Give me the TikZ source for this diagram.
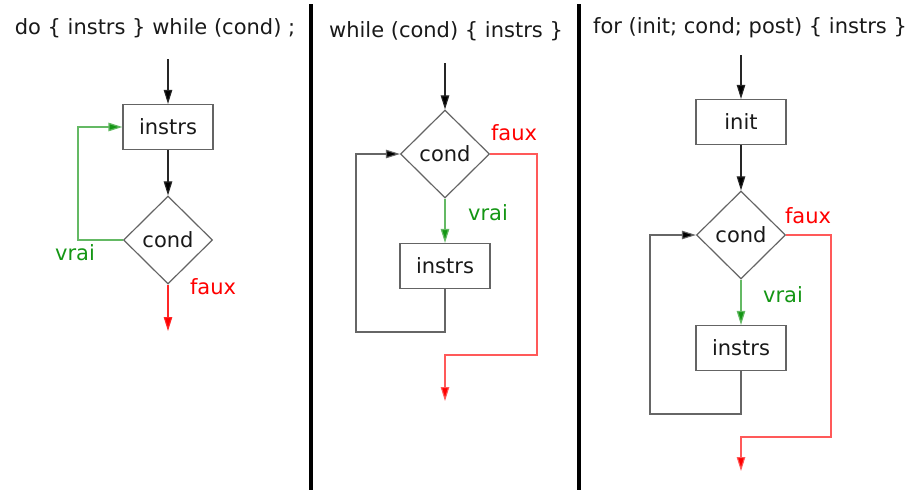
\documentclass[tikz,border=0pt]{standalone}
\usepackage{fontspec}
\setmainfont{DejaVu Sans}
\usetikzlibrary{shapes.geometric,arrows.meta}
\definecolor{okgreen}{RGB}{20,150,20}
\definecolor{lightgreen}{RGB}{100,185,100}
\definecolor{boxgray}{RGB}{100,100,100}
\definecolor{txt}{RGB}{25,25,25}
\tikzset{
  every node/.style={font=\fontsize{21}{24}\selectfont, text=txt},
  stepbox/.style={draw=boxgray, line width=1.2pt, rectangle, minimum width=90pt, minimum height=45pt, inner sep=0pt},
  test/.style={draw=boxgray, line width=1.2pt, diamond, minimum width=89pt, minimum height=88pt, inner sep=0pt},
  flow/.style={draw=black!85, line width=1.1pt, -{Triangle[length=14pt,width=8.5pt,fill=black]}},
  back/.style={draw=black!60, line width=1.1pt, -{Triangle[length=14pt,width=8.5pt,fill=black]}},
  yes/.style={draw=lightgreen, line width=1.2pt, -{Triangle[length=14pt,width=8.5pt,fill=okgreen]}},
  no/.style={draw=red!65, line width=1.1pt, -{Triangle[length=14pt,width=8.5pt,fill=red]}},
  yeslabel/.style={text=okgreen},
  nolabel/.style={text=red},
  title/.style={text=txt},
  divider/.style={line width=4pt, draw=black}
}
\begin{document}
\begin{tikzpicture}[x=1pt,y=-1pt]
\useasboundingbox (0,0) rectangle (914,490);

% dividers between the three loops
\draw[divider] (311,4) -- (311,490);
\draw[divider] (579,4) -- (579,490);

% ---- do { instrs } while (cond);
\node[title] (t1) at (155,28) {do \{ instrs \} while (cond) ;};
\coordinate (s1) at (168,59);
\node[stepbox] (i1) at (168,127) {instrs};
\node[test] (c1) at (168,240) {cond};
\coordinate (e1) at (168,331);
\draw[flow] (s1) -- (i1.north);
\draw[flow] (i1.south) -- (c1.north);
\draw[yes] (c1.west) -- ++(-45,0) |- (i1.west);
\draw[no, draw=red!85] (c1.south) -- (e1);
\node[yeslabel] (v1) at (75,253) {vrai};
\node[nolabel] (f1) at (213,287) {faux};

% ---- while (cond) { instrs }
\node[title] (t2) at (446,31) {while (cond) \{ instrs \}};
\coordinate (s2) at (445,63);
\node[test] (c2) at (445,154) {cond};
\node[stepbox] (i2) at (445,266) {instrs};
\coordinate (b2) at (356,332);
\coordinate (r2) at (537,355);
\coordinate (e2) at (445,401);
\draw[flow] (s2) -- (c2.north);
\draw[yes] (c2.south) -- (i2.north);
\draw[back] (i2.south) |- (b2) |- (c2.west);
\draw[no] (c2.east) -| (r2) -| (e2);
\node[yeslabel] (v2) at (488,213) {vrai};
\node[nolabel] (f2) at (514,133) {faux};

% ---- for (init; cond; post) { instrs }
\node[title] (t3) at (750,28) {for (init; cond; post) \{ instrs \}};
\coordinate (s3) at (741,55);
\node[stepbox] (n3) at (741,122) {init};
\node[test] (c3) at (741,235) {cond};
\node[stepbox] (i3) at (741,348) {instrs};
\coordinate (b3) at (650,414);
\coordinate (r3) at (831,437);
\coordinate (e3) at (741,471);
\draw[flow] (s3) -- (n3.north);
\draw[flow] (n3.south) -- (c3.north);
\draw[yes] (c3.south) -- (i3.north);
\draw[back] (i3.south) |- (b3) |- (c3.west);
\draw[no] (c3.east) -| (r3) -| (e3);
\node[yeslabel] (v3) at (783,295) {vrai};
\node[nolabel] (f3) at (808,216) {faux};
\end{tikzpicture}
\end{document}
